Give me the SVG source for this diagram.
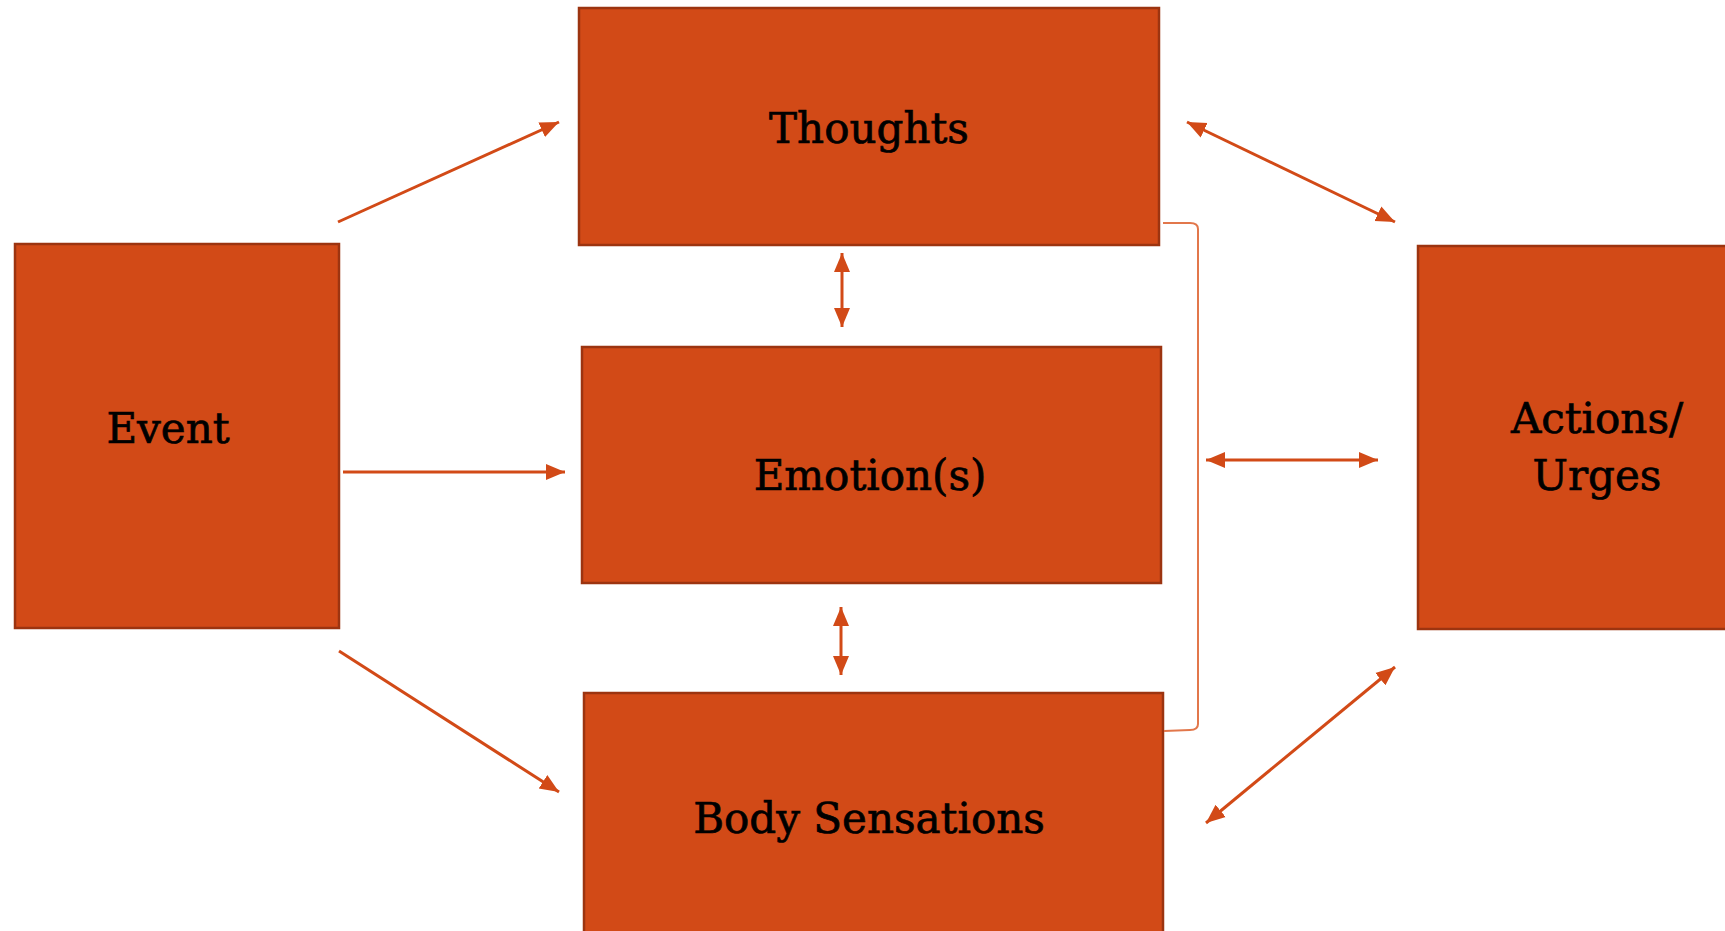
<svg xmlns="http://www.w3.org/2000/svg" width="1725" height="931" viewBox="0 0 1725 931">
<defs>
<style>
.box{fill:#D24A17;stroke:#9C3410;stroke-width:2.5}
.lbl{font-family:"DejaVu Serif","Liberation Serif",serif;font-size:42px;fill:#000;stroke:#000;stroke-width:0.7;text-anchor:middle}
.arr{stroke:#D24A17;stroke-width:3;fill:none}
.br{stroke:#E2774B;stroke-width:2;fill:none}
</style>
<marker id="ah" markerUnits="userSpaceOnUse" markerWidth="20" markerHeight="18" viewBox="0 0 20 18" refX="19" refY="9" orient="auto-start-reverse">
<path d="M0,1 L19,9 L0,17 z" fill="#D24A17"/>
</marker>
</defs>
<rect width="1725" height="931" fill="#fff"/>
<g id="event"><rect class="box" x="15" y="244" width="324" height="384"/><text class="lbl" x="168" y="443">Event</text></g>
<g id="thoughts"><rect class="box" x="579" y="8" width="580" height="237"/><text class="lbl" x="869" y="143">Thoughts</text></g>
<g id="emotions"><rect class="box" x="582" y="347" width="579" height="236"/><text class="lbl" x="870" y="490">Emotion(s)</text></g>
<g id="body"><rect class="box" x="584" y="693" width="579" height="250"/><text class="lbl" x="869" y="833">Body Sensations</text></g>
<g id="actions"><rect class="box" x="1418" y="246" width="320" height="383"/><text class="lbl" x="1597" y="433">Actions/</text><text class="lbl" x="1597" y="490">Urges</text></g>
<g id="connectors">
<line class="arr" x1="338" y1="222" x2="559" y2="122" marker-end="url(#ah)"/>
<line class="arr" x1="343" y1="472" x2="565" y2="472" marker-end="url(#ah)"/>
<line class="arr" x1="339" y1="651" x2="559" y2="792" marker-end="url(#ah)"/>
<line class="arr" x1="842" y1="253" x2="842" y2="327" marker-start="url(#ah)" marker-end="url(#ah)"/>
<line class="arr" x1="841" y1="607" x2="841" y2="675" marker-start="url(#ah)" marker-end="url(#ah)"/>
<line class="arr" x1="1187" y1="122" x2="1395" y2="222" marker-start="url(#ah)" marker-end="url(#ah)"/>
<line class="arr" x1="1206" y1="460" x2="1378" y2="460" marker-start="url(#ah)" marker-end="url(#ah)"/>
<line class="arr" x1="1206" y1="823" x2="1395" y2="667" marker-start="url(#ah)" marker-end="url(#ah)"/>
<path class="br" d="M1163,223 L1190,223 Q1198,223 1198,229 L1198,724 Q1198,730 1190,730 L1164,731"/>
</g>
</svg>
